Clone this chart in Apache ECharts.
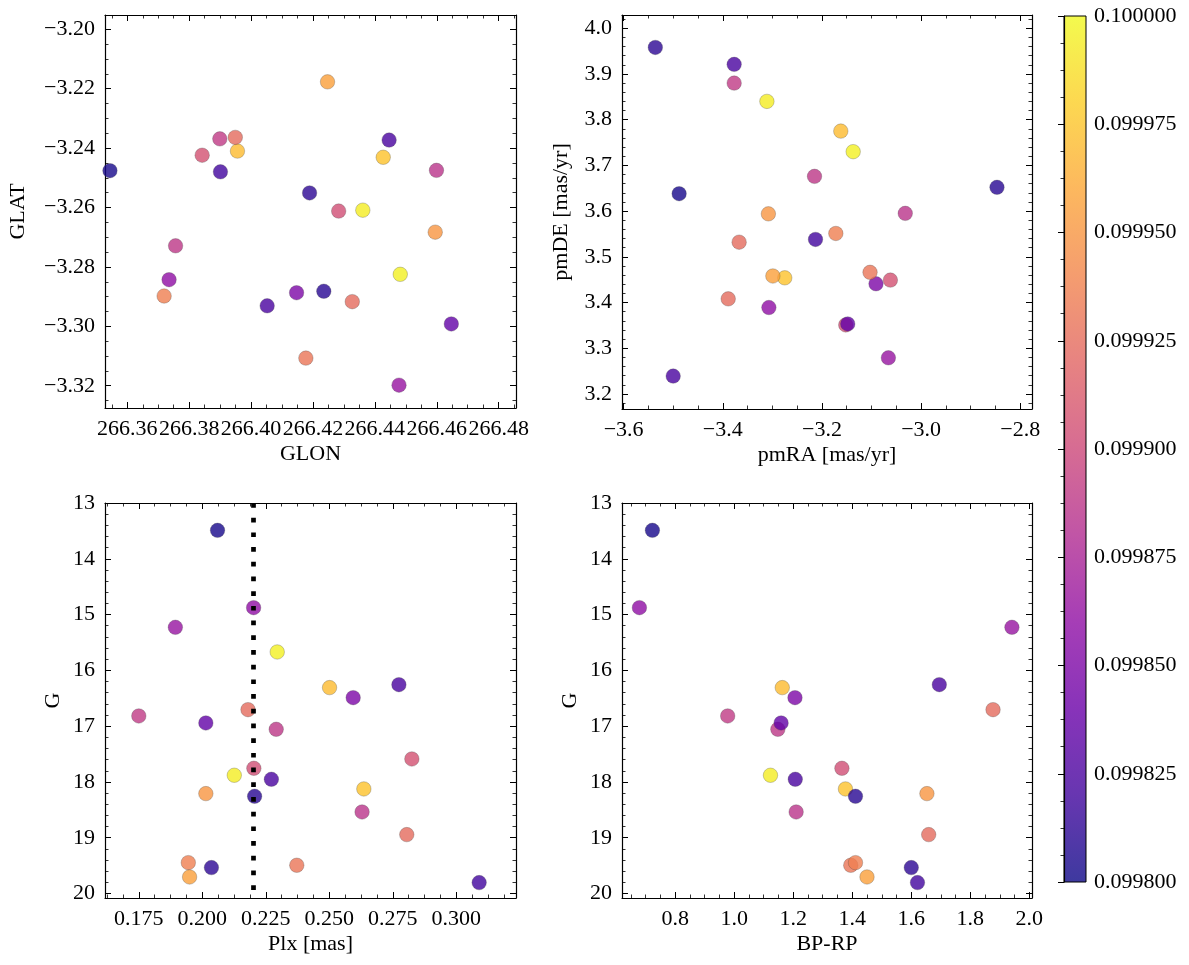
<!DOCTYPE html>
<html><head><meta charset="utf-8">
<script src="https://cdn.jsdelivr.net/npm/echarts@6/dist/echarts.min.js"></script>
<style>html,body{margin:0;padding:0;background:#fff}#c{width:1189px;height:965px}</style>
</head><body><div id="c"></div>
<script>
// ---- data (one entry per star) ----
const glon = [266.3544,266.3735,266.4478,266.4482,266.3956,266.4052,266.4147,266.3949,266.3899,266.3756,266.3842,266.4283,266.4647,266.4361,266.4446,266.4427,266.4595,266.4235,266.4599,266.4327,266.4189,266.4177,266.3719,266.4247,266.3901];
const glat = [-3.2476,-3.2843,-3.3198,-3.2825,-3.2410,-3.2931,-3.2887,-3.2364,-3.2369,-3.2729,-3.2424,-3.2612,-3.2992,-3.2609,-3.2373,-3.2431,-3.2683,-3.2882,-3.2475,-3.2917,-3.2551,-3.3107,-3.2898,-3.2177,-3.2480];
const pmra = [-3.488,-3.307,-3.066,-3.137,-3.162,-3.377,-3.091,-3.389,-3.377,-3.215,-3.062,-3.152,-3.148,-3.311,-3.500,-3.275,-3.308,-2.847,-3.032,-3.367,-3.536,-3.103,-3.172,-3.299,-3.213];
const pmde = [3.638,3.389,3.279,3.730,3.775,3.921,3.441,3.408,3.880,3.676,3.449,3.351,3.353,3.840,3.239,3.454,3.594,3.652,3.595,3.532,3.958,3.466,3.551,3.458,3.538];
const plx  = [0.2060,0.2202,0.1894,0.2295,0.2501,0.2774,0.2594,0.2180,0.1750,0.2291,0.2825,0.2203,0.2014,0.2126,0.2272,0.2636,0.2014,0.2206,0.2629,0.2805,0.2036,0.2372,0.1945,0.1950,0.3090];
const gmag = [13.49,14.876,15.228,15.670,16.309,16.256,16.489,16.704,16.817,17.056,17.588,17.755,16.943,17.880,17.952,18.125,18.209,18.257,18.538,18.944,19.535,19.493,19.446,19.703,19.804];
const bprp = [0.723,0.679,1.941,null,1.163,1.695,1.206,1.877,0.978,1.148,null,1.365,1.159,1.123,1.207,1.377,1.653,1.411,1.210,1.659,1.600,1.395,1.411,1.450,1.621];
const prob = [0.099804,0.099860,0.099864,0.099996,0.099970,0.099824,0.099850,0.099924,0.099890,0.099888,0.099906,0.099904,0.099836,0.099994,0.099824,0.099974,0.099950,0.099810,0.099886,0.099924,0.099812,0.099930,0.099936,0.099956,0.099820];
const plxRef = 0.2207;            // vertical dotted reference line
const probRange = [0.0998, 0.1];
const cbarStep = 0.000025;

const plasma = ['#0d0887','#41049d','#6a00a8','#8f0da4','#b12a90','#cc4778','#e16462','#f2844b','#fca636','#fcce25','#f0f921'];

const FONT = 'Liberation Serif';
const FS = 22;
const minus = s => s.replace('-', '\u2212');

const panels = [
  {grid:{left:105,top:15,width:411,height:393}, x:[266.3528,266.4856,0.02,4], y:[-3.3275,-3.1952,0.02,4],
   xn:'GLON', yn:'GLAT', xf:v=>v.toFixed(2), yf:v=>minus(v.toFixed(2)), yGap:76, inv:false},
  {grid:{left:622,top:15,width:410,height:394}, x:[-3.6032,-2.7764,0.2,4], y:[3.167,4.029,0.1,5],
   xn:'pmRA [mas/yr]', yn:'pmDE [mas/yr]', xf:v=>minus(v.toFixed(1)), yf:v=>v.toFixed(1), yGap:50, inv:false},
  {grid:{left:105,top:503,width:411,height:395}, x:[0.1617,0.3235,0.025,4], y:[13,20.08,1,5],
   xn:'Plx [mas]', yn:'G', xf:v=>v.toFixed(3), yf:v=>v.toFixed(0), yGap:41, inv:true},
  {grid:{left:622,top:503,width:410,height:395}, x:[0.62,2.009,0.2,4], y:[13,20.08,1,5],
   xn:'BP-RP', yn:'G', xf:v=>v.toFixed(1), yf:v=>v.toFixed(0), yGap:41, inv:true}
];

function isNice(v, step){ const r = v/step; return Math.abs(r-Math.round(r)) < 1e-6; }

function axis(gi, spec, pos, show, fmt, name, gap, inverse){
  const [min,max,step,minor] = spec;
  return {
    gridIndex: gi, type:'value', position: pos, min, max,
    minInterval: step, maxInterval: step, splitNumber: Math.round((max-min)/step),
    inverse: !!inverse,
    axisLine:{show:true, onZero:false, lineStyle:{color:'#000', width:1.2}},
    axisTick:{show:true, inside:true, length:6, lineStyle:{color:'#000', width:1}},
    minorTick:{show:true, splitNumber:minor, length:3.5, lineStyle:{color:'#000', width:0.8}},
    splitLine:{show:false}, minorSplitLine:{show:false},
    axisLabel:{show:show, color:'#000', fontFamily:FONT, fontSize:FS, margin:10,
      showMinLabel: isNice(min,step) ? true : false, showMaxLabel: isNice(max,step) ? true : false,
      formatter: fmt},
    name: show ? name : '', nameLocation:'middle', nameGap: gap,
    nameTextStyle:{color:'#000', fontFamily:FONT, fontSize:FS}
  };
}

const grids = [], xAxes = [], yAxes = [], series = [];
panels.forEach((p, gi) => {
  grids.push(p.grid);
  xAxes.push(axis(gi, p.x, 'bottom', true, p.xf, p.xn, 35, false));
  xAxes.push(axis(gi, p.x, 'top', false, p.xf, '', 0, false));
  yAxes.push(Object.assign(axis(gi, p.y, 'left', true, p.yf, p.yn, p.yGap, p.inv), {nameRotate:90}));
  yAxes.push(axis(gi, p.y, 'right', false, p.yf, '', 0, p.inv));
});

const pairs = [
  glon.map((v,i)=>[v, glat[i], prob[i]]),
  pmra.map((v,i)=>[v, pmde[i], prob[i]]),
  plx.map((v,i)=>[v, gmag[i], prob[i]]),
  bprp.map((v,i)=>[v, gmag[i], prob[i]]).filter(d=>d[0]!==null)
];
pairs.forEach((data, gi) => {
  series.push({
    type:'scatter', xAxisIndex: gi*2, yAxisIndex: gi*2, data,
    symbolSize: 14.5,
    itemStyle:{opacity:0.8, borderColor:'rgba(70,70,70,0.7)', borderWidth:0.5},
    emphasis:{disabled:true}, animation:false
  });
});
series[2].markLine = {
  silent:true, symbol:['none','none'], animation:false, z:5,
  label:{show:false},
  lineStyle:{color:'#000', width:4.7, type:[4.7,10], cap:'butt'},
  data:[{xAxis: plxRef}]
};

// colorbar grid
const cb = {left:1064, top:16, width:22, height:866};
grids.push(cb);
xAxes.push({gridIndex:4, type:'value', min:0, max:1, show:false});
yAxes.push({
  gridIndex:4, type:'value', position:'right', min:probRange[0], max:probRange[1],
  interval: cbarStep, z:10,
  axisLine:{show:true, lineStyle:{color:'#000', width:1.2}},
  axisTick:{show:true, inside:true, length:6, lineStyle:{color:'#000', width:1}},
  minorTick:{show:true, splitNumber:4, length:3.5, lineStyle:{color:'#000', width:0.8}},
  splitLine:{show:false},
  axisLabel:{color:'#000', fontFamily:FONT, fontSize:FS, margin:8, formatter:v=>v.toFixed(6)}
});

function hexA(h, a){ const n=parseInt(h.slice(1),16); return `rgba(${n>>16},${(n>>8)&255},${n&255},${a})`; }
const chart = echarts.init(document.getElementById('c'), null, {renderer:'canvas'});
chart.setOption({
  backgroundColor:'#fff', animation:false,
  grid: grids, xAxis: xAxes, yAxis: yAxes, series,
  visualMap:{show:false, type:'continuous', min:probRange[0], max:probRange[1], dimension:2,
    seriesIndex:[0,1,2,3], inRange:{color:plasma}},
  graphic:[{type:'rect', z:0, silent:true,
    shape:{x:cb.left, y:cb.top, width:cb.width, height:cb.height},
    style:{fill:new echarts.graphic.LinearGradient(0,1,0,0, plasma.map((c,i)=>({offset:i/(plasma.length-1), color:hexA(c,0.8)}))),
      stroke:'#000', lineWidth:1}}]
});
</script></body></html>
